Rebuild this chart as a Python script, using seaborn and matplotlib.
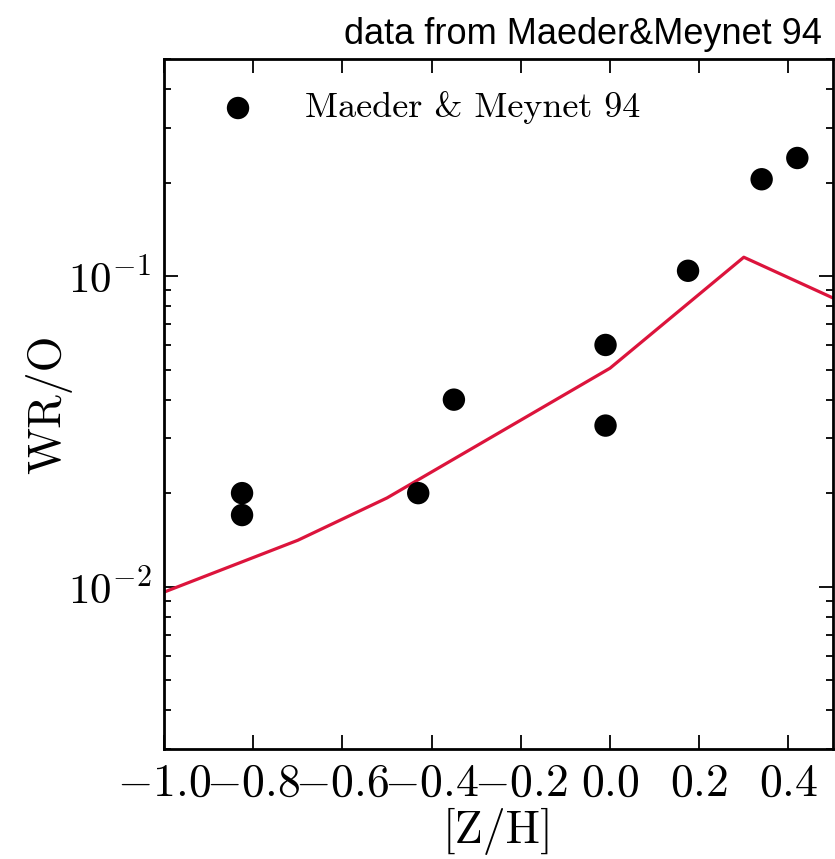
import numpy as np
import pandas as pd
import matplotlib
matplotlib.use("Agg")
import matplotlib.pyplot as plt
from matplotlib.ticker import FuncFormatter, LogLocator
import seaborn as sns

# observed WR/O ratios (Maeder & Meynet 94)
obs_zh = [-0.825, -0.825, -0.43, -0.35, -0.01, -0.01, 0.175, 0.34, 0.42]
obs_wro = [0.020, 0.017, 0.020, 0.040, 0.060, 0.033, 0.104, 0.205, 0.24]

# model curve
model_zh = [-1.0, -0.7, -0.5, 0.0, 0.3, 0.5]
model_wro = [0.0096, 0.0141, 0.0193, 0.0505, 0.115, 0.085]

sns.set_style("ticks")
plt.rcParams["mathtext.fontset"] = "cm"
plt.rcParams["font.family"] = ["Liberation Sans", "DejaVu Sans"]
for k in ["text.color", "axes.labelcolor", "xtick.color", "ytick.color"]:
    plt.rcParams[k] = "black"

obs = pd.DataFrame({"zh": obs_zh, "wro": obs_wro})
model = pd.DataFrame({"zh": model_zh, "wro": model_wro})

fig, ax = plt.subplots(figsize=(8.35, 8.59), dpi=100)
fig.subplots_adjust(left=164 / 835, right=833 / 835, top=1 - 59 / 859, bottom=1 - 749 / 859)

sns.lineplot(data=model, x="zh", y="wro", ax=ax, color="#dc143c", lw=2.3, sort=False, zorder=2)
sns.scatterplot(data=obs, x="zh", y="wro", ax=ax, color="black", s=260, edgecolor="none",
                label="Maeder & Meynet 94", zorder=3)

ax.set_yscale("log")
ax.set_xlim(-1.0, 0.5)
ax.set_ylim(0.003, 0.5)
ax.set_xticks(np.arange(-1.0, 0.45, 0.2))
ax.xaxis.set_major_formatter(FuncFormatter(lambda v, p: r"$%.1f$" % (0.0 if abs(v) < 1e-9 else v)))
ax.yaxis.set_major_locator(LogLocator(base=10))
ax.yaxis.set_major_formatter(FuncFormatter(lambda v, p: r"$10^{%d}$" % round(np.log10(v))))
ax.yaxis.set_minor_locator(LogLocator(base=10, subs=np.arange(2, 10)))
ax.yaxis.set_minor_formatter(FuncFormatter(lambda v, p: ""))

ax.tick_params(which="both", direction="in", top=True, right=True, width=1.3, pad=9)
ax.tick_params(axis="x", labelsize=33)
ax.tick_params(axis="y", labelsize=31)
ax.tick_params(which="major", length=10)
ax.tick_params(which="minor", length=5)
for sp in ax.spines.values():
    sp.set_linewidth(2.0)
    sp.set_color("black")

cm = "cmr10"
ax.set_xlabel("[Z/H]", fontsize=33, fontfamily=cm, labelpad=2)
ax.set_ylabel("WR/O", fontsize=33, fontfamily=cm, labelpad=-3)
fig.text(822 / 835, 1 - 44 / 859, "data from Maeder&Meynet 94", ha="right", va="baseline", fontsize=26)

leg = ax.legend(loc="upper left", frameon=False, prop={"family": cm, "size": 26}, scatterpoints=1,
                handletextpad=0.7, borderaxespad=0.5, handlelength=2.3, markerscale=1.0)

fig.savefig("out.png", dpi=100)
